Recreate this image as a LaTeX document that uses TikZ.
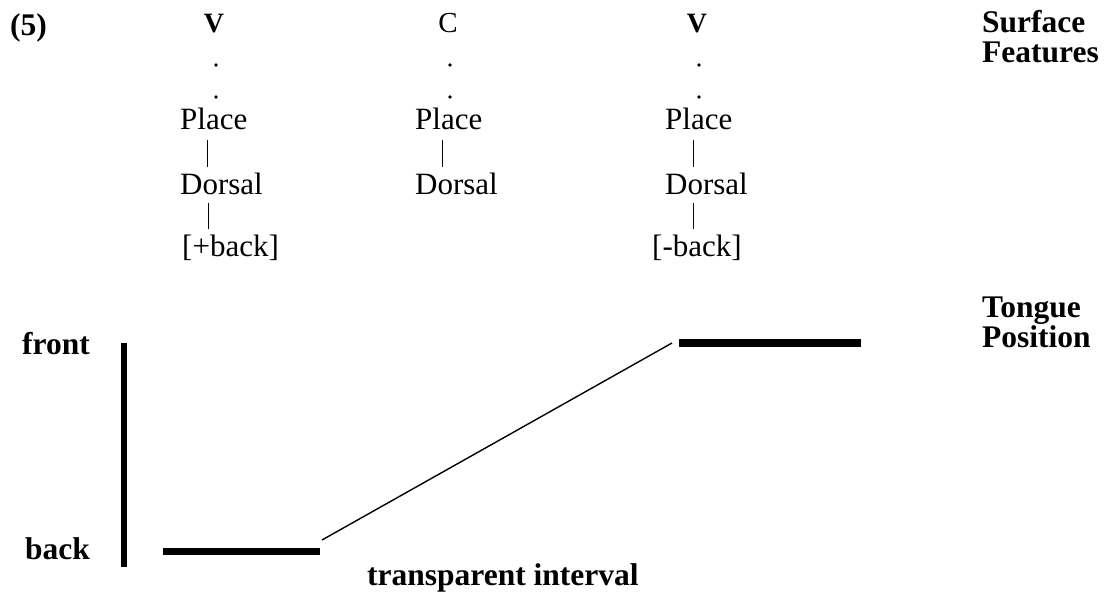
\documentclass[tikz,border=0pt]{standalone}
\usepackage{fontspec}
\setmainfont{Liberation Serif}
\usetikzlibrary{calc}
\begin{document}
\begin{tikzpicture}[x=1pt,y=-1pt,
  lab/.style={inner sep=0pt,anchor=base west,font=\fontsize{31}{31}\selectfont,text height=22pt,text depth=7pt},
  blab/.style={inner sep=0pt,font=\fontsize{31.5}{31.5}\selectfont\bfseries},
  seg/.style={inner sep=0pt,anchor=base,font=\fontsize{29}{29}\selectfont},
  assoc/.style={line width=0.9pt,shorten <=3pt,shorten >=5.5pt},
  dotmark/.style={fill=black},
  thick bar/.style={line width=6.5pt},
  slope/.style={line width=1.4pt}]
\useasboundingbox (0,0) rectangle (1104,601);
% example number
\node[blab,anchor=base west] (num) at (10,36) {(5)};
% segments
\node[seg,font=\fontsize{28}{28}\selectfont\bfseries] (v1) at (214,33) {V};
\node[seg] (c1) at (448,33) {C};
\node[seg,font=\fontsize{28}{28}\selectfont\bfseries] (v2) at (697,33) {V};
% feature trees
\node[lab] (p1) at (180,130) {Place};
\node[lab] (d1) at (180,195) {Dorsal};
\node[lab] (f1) at (182,257) {[+back]};
\node[lab] (p2) at (415,130) {Place};
\node[lab] (d2) at (415,195) {Dorsal};
\node[lab] (p3) at (665,130) {Place};
\node[lab] (d3) at (665,195) {Dorsal};
\node[lab] (f3) at (652,257) {[-back]};
% dotted association (two dots)
\foreach \s in {v1,c1,v2}{
  \fill[dotmark] ($(\s.base)+(2,32)$) circle (1.8);
  \fill[dotmark] ($(\s.base)+(2,64)$) circle (1.8);
}
% association lines
\draw[assoc] ([xshift=27pt]p1.south west) -- ([xshift=27pt]d1.north west);
\draw[assoc,shorten <=1pt] ([xshift=28pt]d1.south west) -- ([xshift=26pt]f1.north west);
\draw[assoc] ([xshift=27pt]p2.south west) -- ([xshift=27pt]d2.north west);
\draw[assoc] ([xshift=28pt]p3.south west) -- ([xshift=28pt]d3.north west);
\draw[assoc,shorten <=1pt] ([xshift=28pt]d3.south west) -- ([xshift=41pt]f3.north west);
% tier labels
\node[blab,anchor=base west] (sf1) at (982,33) {Surface};
\node[blab,anchor=base west] (sf2) at (982,63) {Features};
\node[blab,anchor=base west] (tp1) at (982,318) {Tongue};
\node[blab,anchor=base west] (tp2) at (982,348) {Position};
% tongue position chart
\node[blab,anchor=base east] (front) at (90,355) {front};
\node[blab,anchor=base east] (back) at (90,560) {back};
\coordinate (axtop) at (124,343);
\coordinate (axbot) at (124,567);
\coordinate (bs) at (163,552);
\coordinate (be) at (320,552);
\coordinate (fs) at (679,343);
\coordinate (fe) at (861,343);
\coordinate (ls) at (322,540);
\coordinate (le) at (672,343);
\draw[line width=6pt] (axtop) -- (axbot);
\draw[thick bar,line width=7pt] (bs) -- (be);
\draw[thick bar,line width=8pt] (fs) -- (fe);
\draw[slope] (ls) -- (le);
\node[blab,anchor=base west] (ti) at (367,586) {transparent interval};
\end{tikzpicture}
\end{document}
